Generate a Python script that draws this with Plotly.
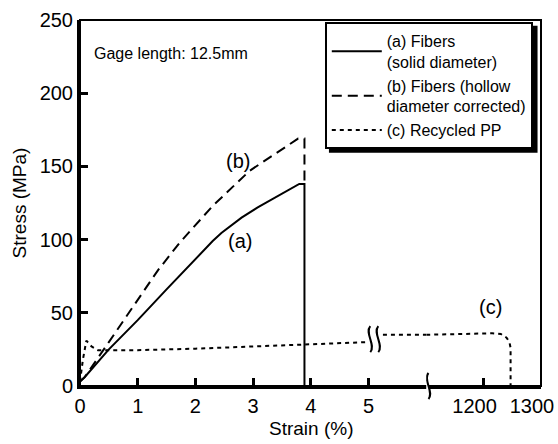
import plotly.graph_objects as go

# ---- data ----
strain_a = [0.0, 0.08, 0.5, 1.0, 1.5, 2.0, 2.3, 2.45, 2.6, 2.8, 3.08, 3.5, 3.8, 3.89, 3.89]
stress_a = [3, 6, 25, 45, 66, 87, 99, 104.5, 109, 115, 122, 131, 138, 138, 0]

strain_b = [0.0, 0.08, 0.5, 1.0, 1.35, 1.73, 2.0, 2.3, 2.94, 3.46, 3.78, 3.89, 3.89]
stress_b = [3, 6, 30, 59, 79, 98, 110, 123, 147, 161, 169, 169, 140]

# recycled PP, low-strain part (left scale) and high-strain part (right scale)
strain_c_low = [0.0, 0.05, 0.11, 0.2, 0.31, 1.0, 2.0, 3.0, 4.0, 5.0, None, 5.25, 6.0]
stress_c_low = [3, 18, 31, 27, 24.5, 24.5, 25.5, 27, 28.5, 30, None, 35, 35]
strain_c_high = [1100, 1215, 1230, 1240, 1245, 1247, 1247]
stress_c_high = [35, 36, 35.5, 33, 30, 26, 0]

x_ticks_low = [0, 1, 2, 3, 4, 5]
x_ticks_high = [1200, 1300]
y_ticks = [0, 50, 100, 150, 200, 250]

FONT = "Liberation Sans, Arial, sans-serif"
split = 0.751

fig = go.Figure()
fig.add_trace(go.Scatter(x=strain_a, y=stress_a, mode="lines", xaxis="x", yaxis="y",
                         line=dict(color="black", width=2),
                         name="(a) Fibers<br>(solid diameter)"))
fig.add_trace(go.Scatter(x=strain_b, y=stress_b, mode="lines", xaxis="x", yaxis="y",
                         line=dict(color="black", width=2, dash="10px,6px"),
                         name="(b) Fibers (hollow<br>diameter corrected)"))
fig.add_trace(go.Scatter(x=strain_c_low, y=stress_c_low, mode="lines", xaxis="x", yaxis="y",
                         connectgaps=False,
                         line=dict(color="black", width=2, dash="4px,4px"),
                         name="(c) Recycled PP"))
fig.add_trace(go.Scatter(x=strain_c_high, y=stress_c_high, mode="lines", xaxis="x2", yaxis="y",
                         line=dict(color="black", width=2, dash="4px,4px"),
                         showlegend=False))

axis_common = dict(showgrid=False, zeroline=False, showline=True, linecolor="black",
                   linewidth=3, ticks="inside", ticklen=8, tickwidth=2.5, tickcolor="black",
                   automargin=False,
                   tickfont=dict(family=FONT, size=20, color="black"))

fig.update_layout(
    width=558, height=444,
    margin=dict(l=80, r=17, t=20, b=58, autoexpand=False),
    paper_bgcolor="white", plot_bgcolor="white",
    font=dict(family=FONT, color="black"),
    xaxis=dict(domain=[0, split], range=[0, 6], tickvals=x_ticks_low,
               anchor="y", **axis_common),
    xaxis2=dict(domain=[split, 1], range=[1100, 1300.01], tickvals=x_ticks_high,
                ticklabelshift=-9, anchor="y", **axis_common),
    yaxis=dict(range=[0, 250], tickvals=y_ticks, anchor="x",
               title=dict(text="Stress (MPa)", font=dict(family=FONT, size=19), standoff=8),
               **axis_common),
    legend=dict(x=0.531, y=0.995, xanchor="left", yanchor="top",
                bgcolor="white", bordercolor="black", borderwidth=2,
                font=dict(family=FONT, size=16, color="black"),
                tracegroupgap=0, itemwidth=50),
    showlegend=True,
)

# plot frame (top and right borders)
fig.add_shape(type="rect", xref="paper", yref="paper", x0=0, x1=1, y0=0, y1=1,
              line=dict(color="black", width=2), layer="above")
# legend drop shadow
fig.add_shape(type="rect", xref="paper", yref="paper", x0=0.540, x1=0.9925, y0=0.637, y1=0.984,
              line=dict(width=0), fillcolor="black", layer="above")

fig.add_annotation(text="Strain (%)", xref="paper", yref="paper", x=0.5, y=0,
                   yshift=-42, yanchor="middle", showarrow=False,
                   font=dict(family=FONT, size=19))
fig.add_annotation(text="Gage length: 12.5mm", xref="paper", yref="paper", x=0.026, y=0.937,
                   xanchor="left", showarrow=False, font=dict(family=FONT, size=16))
fig.add_annotation(text="(a)", x=2.77, y=99, xref="x", yref="y", showarrow=False,
                   font=dict(family=FONT, size=20))
fig.add_annotation(text="(b)", x=2.73, y=154, xref="x", yref="y", showarrow=False,
                   font=dict(family=FONT, size=20))
fig.add_annotation(text="(c)", x=1212, y=54, xref="x2", yref="y", showarrow=False,
                   font=dict(family=FONT, size=20))

# break marks (drawn in pixel size, anchored to data positions)
fill_path = "M -4 13 C -10 6 2 -6 -4 -13 L 4 -13 C 10 -6 -2 6 4 13 Z"
s1 = "M -4 13 C -10 6 2 -6 -4 -13"
s2 = "M 4 13 C -2 6 10 -6 4 -13"

def add_break(xref, xa, yref, ya):
    common = dict(xref=xref, yref=yref, xsizemode="pixel", ysizemode="pixel",
                  xanchor=xa, yanchor=ya, layer="above")
    fig.add_shape(type="path", path=fill_path, fillcolor="white", line=dict(width=0), **common)
    fig.add_shape(type="path", path=s1, line=dict(color="black", width=2), **common)
    fig.add_shape(type="path", path=s2, line=dict(color="black", width=2), **common)

add_break("x", 5.1, "y", 32)
add_break("x2", 1097, "paper", 0)

fig.write_html("out.html")
